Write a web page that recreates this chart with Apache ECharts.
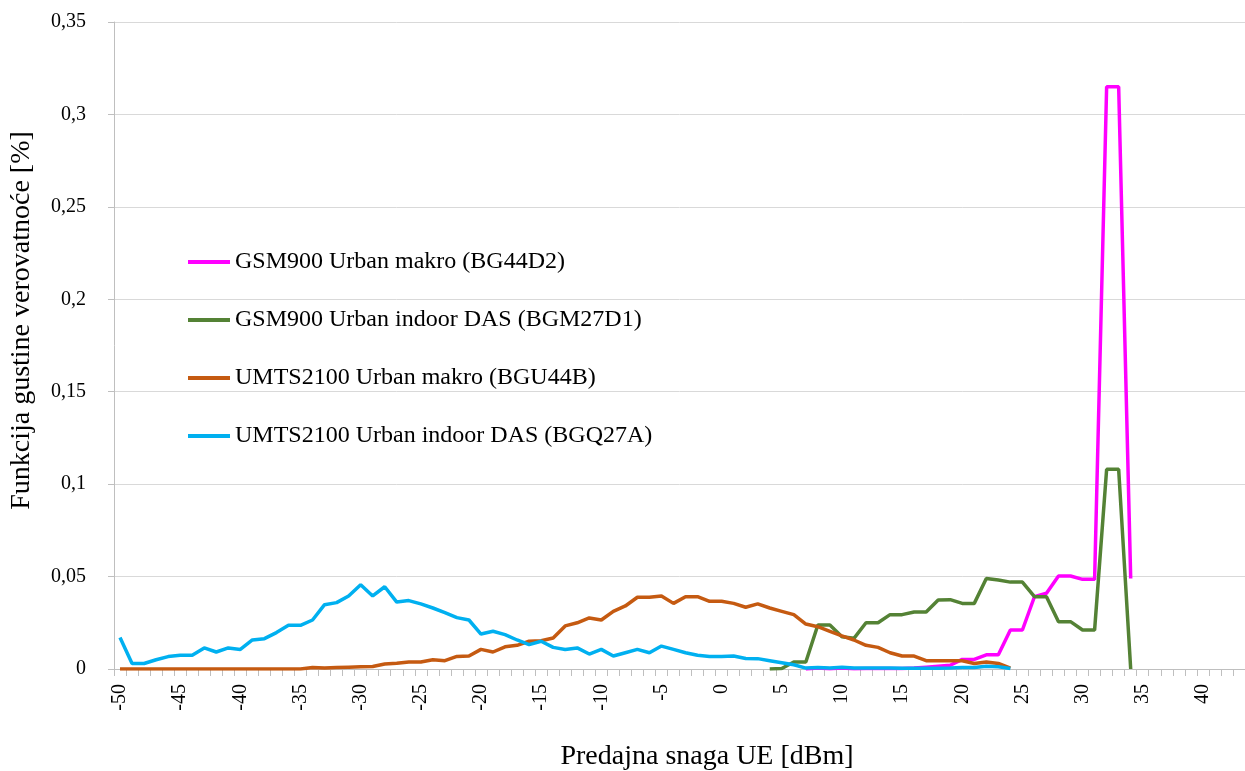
<!DOCTYPE html>
<html>
<head>
<meta charset="utf-8">
<script src="https://cdn.jsdelivr.net/npm/echarts@6/dist/echarts.min.js"></script>
<style>
html,body{margin:0;padding:0;background:#fff;}
#chart{width:1245px;height:771px;}
</style>
</head>
<body>
<div id="chart"></div>
<script>
// categories: transmit power -50 .. 43 dBm
var categories = [];
for (var c = -50; c <= 43; c++) categories.push(String(c));

var seriesNames = [
  'GSM900 Urban makro (BG44D2)',
  'GSM900 Urban indoor DAS (BGM27D1)',
  'UMTS2100 Urban makro (BGU44B)',
  'UMTS2100 Urban indoor DAS (BGQ27A)'
];

// GSM900 Urban makro: values for 7 .. 34 dBm
var gsmMakroStart = 7;
var gsmMakro = [0, 0.0005, 0.0002, 0.0005, 0.0002, 0.0003, 0.0003, 0.0003, 0.0003, 0.0005,
  0.001, 0.0015, 0.002, 0.0052, 0.0052, 0.0077, 0.0077, 0.0211, 0.0211, 0.0391,
  0.041, 0.0503, 0.0503, 0.0485, 0.0485, 0.315, 0.315, 0.049];

// GSM900 Urban indoor DAS: values for 4 .. 34 dBm
var gsmDasStart = 4;
var gsmDas = [0, 0.0003, 0.0038, 0.0038, 0.0238, 0.0238, 0.0175, 0.0166, 0.025, 0.025,
  0.0294, 0.0294, 0.0308, 0.0308, 0.0373, 0.0375, 0.0355, 0.0355, 0.0489, 0.0481,
  0.047, 0.047, 0.0391, 0.0391, 0.0256, 0.0256, 0.0211, 0.0211, 0.108, 0.108, 0];

// UMTS2100 Urban makro: values for -50 .. 24 dBm
var umtsMakroStart = -50;
var umtsMakro = [0, 0, 0, 0, 0, 0, 0, 0, 0, 0, 0, 0, 0, 0, 0, 0,
  0.0008, 0.0005, 0.0008, 0.001, 0.0012, 0.0014, 0.0027, 0.0031, 0.0038, 0.0038,
  0.005, 0.0045, 0.0068, 0.007, 0.0106, 0.0092, 0.012, 0.0128, 0.015, 0.0153,
  0.0168, 0.0233, 0.025, 0.0276, 0.0265, 0.0312, 0.0341, 0.0388, 0.0388, 0.0395,
  0.0355, 0.0391, 0.0391, 0.0366, 0.0366, 0.0355, 0.0334, 0.0352, 0.033, 0.0312,
  0.0294, 0.0243, 0.0229, 0.0204, 0.0179, 0.0157, 0.0128, 0.0117, 0.0088, 0.007,
  0.007, 0.0045, 0.0045, 0.0045, 0.0045, 0.003, 0.0038, 0.003, 0.0005];

// UMTS2100 Urban indoor DAS: values for -50 .. 24 dBm
var umtsDasStart = -50;
var umtsDas = [0.017, 0.003, 0.003, 0.005, 0.0067, 0.0074, 0.0075, 0.0114, 0.0092, 0.0114,
  0.0106, 0.0157, 0.0164, 0.0197, 0.0236, 0.0236, 0.0265, 0.0348, 0.0359, 0.0395,
  0.0456, 0.0395, 0.0445, 0.0362, 0.037, 0.0352, 0.033, 0.0305, 0.0278, 0.0265,
  0.0189, 0.0204, 0.0186, 0.0157, 0.0132, 0.015, 0.0117, 0.0106, 0.0114, 0.0081,
  0.0106, 0.007, 0.0088, 0.0106, 0.0088, 0.0124, 0.0106, 0.0088, 0.0074, 0.0067,
  0.0067, 0.007, 0.0057, 0.0056, 0.0045, 0.0034, 0.0023, 0.0005, 0.0008, 0.0005,
  0.001, 0.0005, 0.0006, 0.0005, 0.0005, 0.0004, 0.0004, 0.0004, 0.0004, 0.0005,
  0.0008, 0.0008, 0.0015, 0.0012, 0.0003];

var colors = ['#FF00FF', '#548235', '#C55A11', '#00B0F0'];

function place(start, values) {
  var out = categories.map(function () { return null; });
  var offset = start - (-50);
  for (var i = 0; i < values.length; i++) out[offset + i] = values[i];
  return out;
}

var seriesData = [
  place(gsmMakroStart, gsmMakro),
  place(gsmDasStart, gsmDas),
  place(umtsMakroStart, umtsMakro),
  place(umtsDasStart, umtsDas)
];

var font = 'Liberation Serif, Times New Roman, serif';
var chart = echarts.init(document.getElementById('chart'));
chart.setOption({
  animation: false,
  color: colors,
  grid: { left: 114, top: 22, right: 0, bottom: 102, containLabel: false, outerBoundsMode: 'none' },
  legend: {
    orient: 'vertical',
    left: 183,
    top: 245,
    itemWidth: 42,
    itemHeight: 4,
    itemGap: 34,
    icon: 'rect',
    textStyle: { fontFamily: font, fontSize: 24, color: '#000', lineHeight: 24 },
    data: seriesNames
  },
  xAxis: {
    type: 'category',
    data: categories,
    boundaryGap: true,
    name: 'Predajna snaga UE [dBm]',
    nameLocation: 'middle',
    nameGap: 74,
    nameTextStyle: { fontFamily: font, fontSize: 28, color: '#000', padding: [0, 0, 0, 55] },
    axisLine: { lineStyle: { color: '#bfbfbf', width: 1 } },
    axisTick: { show: true, interval: 0, length: 7, lineStyle: { color: '#bfbfbf' } },
    axisLabel: { interval: 4, rotate: 90, margin: 15, fontFamily: font, fontSize: 20, color: '#000' },
    splitLine: { show: false }
  },
  yAxis: {
    type: 'value',
    min: 0,
    max: 0.35,
    interval: 0.05,
    name: 'Funkcija gustine verovatnoće [%]',
    nameLocation: 'middle',
    nameGap: 78,
    nameTextStyle: { fontFamily: font, fontSize: 28, color: '#000', padding: [0, 0, 0, 50] },
    axisLine: { show: true, lineStyle: { color: '#bfbfbf', width: 1 } },
    axisTick: { show: true, length: 6, lineStyle: { color: '#bfbfbf' } },
    axisLabel: {
      margin: 28,
      fontFamily: font, fontSize: 20, color: '#000',
      formatter: function (v) { return v === 0 ? '0' : String(+v.toFixed(2)).replace('.', ','); }
    },
    splitLine: { lineStyle: { color: '#d9d9d9', width: 1 } }
  },
  series: seriesNames.map(function (n, i) {
    return {
      name: n,
      type: 'line',
      data: seriesData[i],
      symbol: 'none',
      connectNulls: false,
      lineStyle: { width: 3.5, color: colors[i] },
      itemStyle: { color: colors[i] }
    };
  })
});
</script>
</body>
</html>
